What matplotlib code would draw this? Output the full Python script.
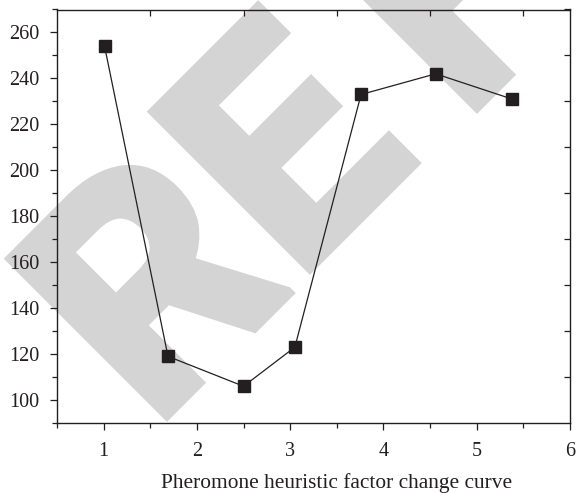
import matplotlib
matplotlib.use("Agg")
import matplotlib.pyplot as plt
import matplotlib.patheffects as pe
from matplotlib.ticker import MultipleLocator, FixedLocator, NullFormatter

x_vals = [1.01, 1.69, 2.50, 3.05, 3.76, 4.56, 5.38]
y_vals = [254, 119, 106, 123, 233, 242, 231]
x_ticks = [1, 2, 3, 4, 5, 6]
y_ticks = [100, 120, 140, 160, 180, 200, 220, 240, 260]
x_label = "Pheromone heuristic factor change curve"
watermark_letters = ["R", "E", "F"]
# anchor points (pixels) for each watermark letter
wm_anchor_px = [(153, 429), (296, 282), (463, 121)]

ink = "#231f20"
wm_col = '#d4d4d4'
plt.rcParams['font.family'] = ['Liberation Serif', 'DejaVu Serif']

W, H = 576, 493
fig = plt.figure(figsize=(W/100, H/100), dpi=100)
ax = fig.add_axes([57/W, 1-423/H, (570-57)/W, (423-9.5)/H])
ax.patch.set_alpha(0)

for letter, (px, py) in zip(watermark_letters, wm_anchor_px):
    fig.text(px/W, 1-py/H, letter, rotation=45, rotation_mode='anchor',
             ha='left', va='baseline', fontsize=224, fontweight='bold',
             family='Roboto', color=wm_col, zorder=-5,
             path_effects=[pe.withStroke(linewidth=7, foreground=wm_col,
                                         joinstyle='miter')])

ax.plot(x_vals, y_vals, color=ink, lw=0.9, marker='s', ms=8,
        mfc=ink, mec=ink, zorder=3)

ax.set_xlim(0.5, 6)
ax.set_ylim(90, 270)
ax.set_xticks(x_ticks)
ax.set_yticks(y_ticks)
ax.xaxis.set_minor_locator(MultipleLocator(0.5))
ax.yaxis.set_minor_locator(MultipleLocator(10))
ax.tick_params(which='major', direction='out', length=5, width=0.9, color=ink,
               labelsize=14.5, labelcolor=ink, top=False, right=False)
ax.tick_params(axis='x', which='major', pad=9)
ax.tick_params(axis='y', which='major', pad=7.5)
ax.tick_params(which='minor', direction='out', length=3.5, width=0.9, color=ink,
               top=False, right=False)
for s in ax.spines.values():
    s.set_color(ink)
    s.set_linewidth(1.0)

axt = ax.twiny()
axt.set_xlim(ax.get_xlim())
axt.xaxis.set_major_locator(FixedLocator([1.5, 2.5, 3.5, 4.5, 5.5]))
axt.xaxis.set_major_formatter(NullFormatter())
axt.tick_params(direction='in', length=4, width=0.9, color=ink)
axr = ax.twinx()
axr.set_ylim(ax.get_ylim())
axr.yaxis.set_major_locator(FixedLocator([110, 130, 150, 170, 190, 210, 230, 250, 270]))
axr.yaxis.set_major_formatter(NullFormatter())
axr.tick_params(direction='in', length=4, width=0.9, color=ink)
for a in (axt, axr):
    a.patch.set_alpha(0)
    for s in a.spines.values():
        s.set_visible(False)

ax.set_xlabel(x_label, fontsize=15.4, color=ink)
ax.xaxis.set_label_coords((337-57)/513, -0.12)

fig.savefig("out.png", dpi=100)
